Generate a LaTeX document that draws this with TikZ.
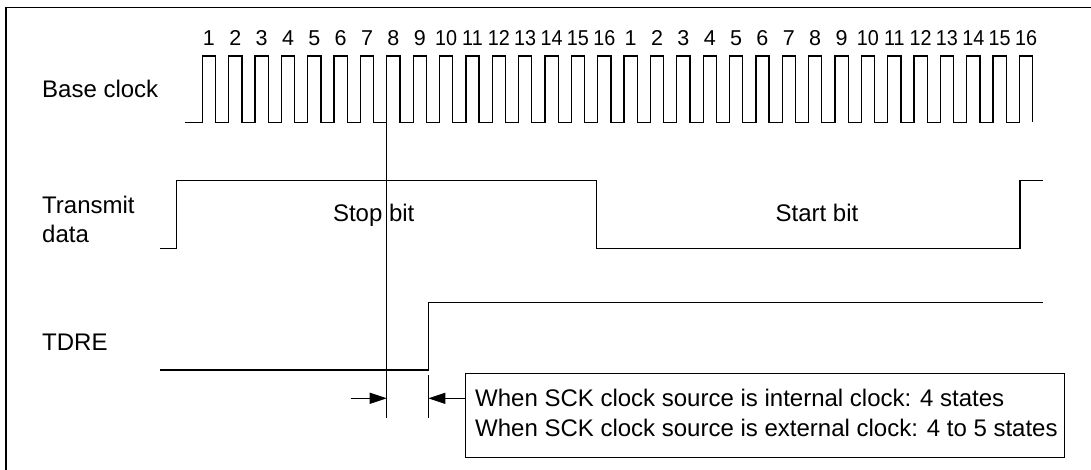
\documentclass[tikz,border=0pt]{standalone}
\usepackage{fontspec}
\setmainfont{Liberation Sans}
\usepackage{graphicx}
\usetikzlibrary{arrows.meta}
\tikzset{
  sig/.style={line width=1.3pt, line join=miter},
  thin/.style={line width=1.1pt},
  lbl/.style={inner sep=0pt, anchor=base west, font=\fontsize{24}{29}\selectfont},
  num/.style={inner sep=0pt, anchor=base, font=\fontsize{21.5}{25}\selectfont},
  dimarrow/.style={line width=1.1pt, -{Triangle[length=17pt,width=11pt]}},
}
\begin{document}
\begin{tikzpicture}[x=1pt,y=-1pt]
\useasboundingbox (0,0) rectangle (1091,470);
% frame
\draw[thin] (6,470) -- (6,7.3) -- (1091,7.3);
% labels
\node[lbl] (lbase) at (42,97.3) {Base clock};
\node[lbl] (ltx1) at (42,213.3) {Transmit};
\node[lbl] (ltx2) at (42,242.3) {data};
\node[lbl] (ltdre) at (42,350.7) {TDRE};
% clock numbers
\foreach \k in {0,...,31}{
  \pgfmathtruncatemacro\n{mod(\k,16)+1}
  \ifnum\n>9
    \node[num] (n\k) at ({208.9+\k*26.36},45.5) {\scalebox{0.92}[1]{\n}};
  \else
    \node[num] (n\k) at ({208.9+\k*26.36},45.5) {\n};
  \fi
}
% base clock
\draw[sig] (185,122.5)
  \foreach \k in {0,...,31}{
    -- ({202.3+\k*26.36},122.5) -- ({202.3+\k*26.36},56)
    -- ({215.5+\k*26.36},56) -- ({215.5+\k*26.36},122.5)
  };
% transmit data
\draw[sig] (160,248.5) -- (176.7,248.5) -- (176.7,180.7) -- (596.7,180.7)
  -- (596.7,248.5) -- (1020,248.5) -- (1020,180.7) -- (1043.3,180.7);
\node[lbl, anchor=base] (stop) at (373.7,221.7) {Stop bit};
\node[lbl, anchor=base] (start) at (817,221.7) {Start bit};
% TDRE
\draw[sig] (160,370) -- (428.3,370) -- (428.3,302.3) -- (1043.3,302.3);
% reference lines
\coordinate (v1t) at (386.7,122.5);
\coordinate (v1b) at (386.7,417.7);
\coordinate (v2t) at (428.3,375);
\coordinate (v2b) at (428.3,417.7);
\draw[thin] (v1t) -- (v1b);
\draw[thin] (v2t) -- (v2b);
% note box
\node[draw, line width=1.1pt, anchor=north west, minimum width=599pt, minimum height=84pt, inner sep=0pt] (note) at (465,372.7) {};
\node[lbl] (t1) at (475,406.7) {When SCK clock source is internal clock: 4 states};
\node[lbl] (t2) at (475,436.7) {When SCK clock source is external clock: 4 to 5 states};
% dimension arrows
\coordinate (a1s) at (350.7,398.3);
\coordinate (a1e) at (386.7,398.3);
\coordinate (a2s) at (465,398.3);
\coordinate (a2e) at (428.3,398.3);
\draw[dimarrow] (a1s) -- (a1e);
\draw[dimarrow] (a2s) -- (a2e);
\end{tikzpicture}
\end{document}
